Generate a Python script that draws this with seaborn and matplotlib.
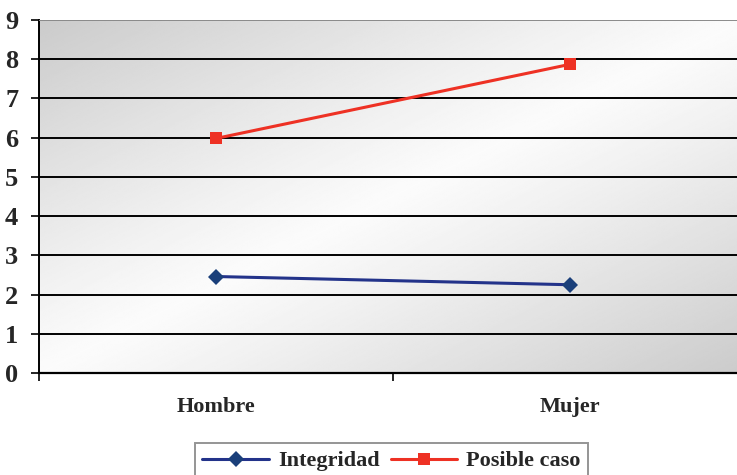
import numpy as np
import pandas as pd
import matplotlib
matplotlib.use("Agg")
import matplotlib.pyplot as plt
from matplotlib.ticker import FixedLocator
import seaborn as sns

categories = ["Hombre", "Mujer"]
integridad = [2.46, 2.25]
posible_caso = [5.98, 7.87]
series_names = ["Integridad", "Posible caso"]
y_ticks = [0, 1, 2, 3, 4, 5, 6, 7, 8, 9]

df = pd.DataFrame({
    "sexo": categories * 2,
    "valor": integridad + posible_caso,
    "serie": [series_names[0]] * 2 + [series_names[1]] * 2,
})

sns.set_style("white")
plt.rcParams["font.family"] = ["Liberation Serif", "DejaVu Serif"]
plt.rcParams["font.weight"] = "bold"

W, H = 737, 475
fig = plt.figure(figsize=(W / 100, H / 100), dpi=100)
ax = fig.add_axes([39 / W, (H - 373) / H, 708 / W, 353 / H])

# diagonal gray gradient for the plot area
n = 300
gx, gy = np.meshgrid(np.linspace(0, 1, n), np.linspace(1, 0, n))
d = np.clip(np.abs(gx - gy), 0, 1)
shade = 0.985 - 0.19 * d ** 1.1
ax.imshow(shade, cmap="gray", vmin=0, vmax=1, extent=[0, 1, 0, 1],
          transform=ax.transAxes, aspect="auto", zorder=0, interpolation="bilinear")

palette = {"Integridad": "#23338a", "Posible caso": "#ee3124"}
sns.lineplot(data=df, x="sexo", y="valor", hue="serie", style="serie",
             markers={"Integridad": "D", "Posible caso": "s"},
             dashes=False, palette=palette, sort=False, linewidth=2.2,
             markersize=8.5, markeredgewidth=0, ax=ax, zorder=3, legend=False)
for line, mc in zip(ax.lines, ["#1a3f7a", "#ee3124"]):
    line.set_markerfacecolor(mc)
    line.set_markeredgecolor(mc)

ax.set_xlim(-0.5, 1.5)
ax.set_ylim(0, 9)
ax.set_xticks([0, 1])
ax.set_xticklabels(categories)
ax.xaxis.set_minor_locator(FixedLocator([-0.5, 0.5, 1.5]))
ax.tick_params(axis="x", which="major", length=0, pad=17, labelsize=16)
ax.tick_params(axis="x", which="minor", length=6, width=1.2, color="black",
               direction="out", bottom=True)
ax.set_yticks(y_ticks)
ax.tick_params(axis="y", length=6, width=1.2, color="black", direction="out",
               left=True, pad=9, labelsize=19)
for lab in ax.get_xticklabels() + ax.get_yticklabels():
    lab.set_fontweight("bold")
ax.set_xlabel("")
ax.set_ylabel("")

ax.grid(axis="y", color="black", linewidth=1.4, zorder=1)
ax.set_axisbelow(False)
ax.yaxis.get_gridlines()[-1].set_color("#8a8a8a")
for gl in ax.yaxis.get_gridlines():
    gl.set_zorder(1)

for side in ["top", "right"]:
    ax.spines[side].set_visible(False)
ax.spines["left"].set_color("black")
ax.spines["left"].set_linewidth(1.4)
ax.spines["bottom"].set_color("black")
ax.spines["bottom"].set_linewidth(1.6)

handles = [
    plt.Line2D([], [], color="#23338a", lw=2.2, marker="D", markersize=8,
               markerfacecolor="#1a3f7a", markeredgewidth=0),
    plt.Line2D([], [], color="#ee3124", lw=2.2, marker="s", markersize=8,
               markerfacecolor="#ee3124", markeredgewidth=0),
]
leg = fig.legend(handles, series_names, loc="upper center",
                 bbox_to_anchor=(391.5 / W, (H - 443) / H), ncol=2,
                 frameon=True, fancybox=False, handlelength=3.0,
                 handletextpad=0.4, columnspacing=0.5, borderpad=0.35,
                 borderaxespad=0, prop={"size": 16, "weight": "bold"})
leg.get_frame().set_edgecolor("#7a7a7a")
leg.get_frame().set_linewidth(1.4)

fig.savefig("out.png", dpi=100, facecolor="white")
